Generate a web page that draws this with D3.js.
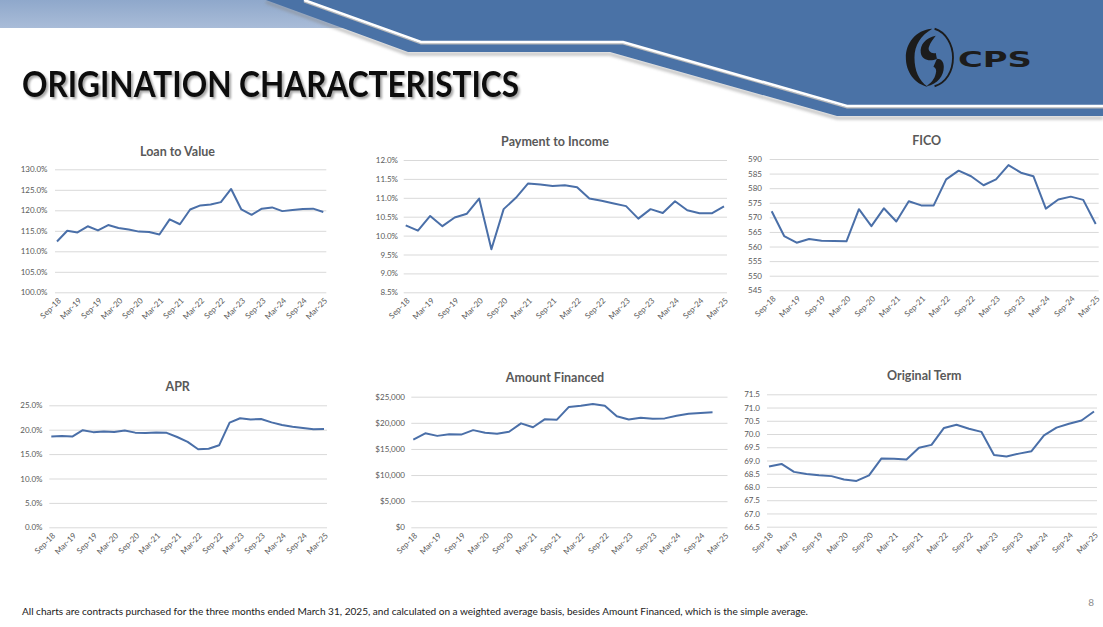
<!DOCTYPE html>
<html>
<head>
<meta charset="utf-8">
<script src="https://cdn.jsdelivr.net/npm/d3@7"></script>
<style>
  html, body { margin: 0; padding: 0; background: #ffffff; }
  svg { display: block; }
</style>
</head>
<body>
<script>
// ---------------- DATA ----------------
const quarters = ["Sep-18","Dec-18","Mar-19","Jun-19","Sep-19","Dec-19","Mar-20","Jun-20","Sep-20","Dec-20",
  "Mar-21","Jun-21","Sep-21","Dec-21","Mar-22","Jun-22","Sep-22","Dec-22","Mar-23","Jun-23",
  "Sep-23","Dec-23","Mar-24","Jun-24","Sep-24","Dec-24","Mar-25"];

const loanToValue = [112.4,115.0,114.6,116.1,115.1,116.4,115.7,115.3,114.8,114.7,114.1,117.8,116.6,120.2,121.2,121.4,122.0,125.2,120.2,118.9,120.4,120.7,119.8,120.1,120.3,120.4,119.6];
const paymentToIncome = [10.27,10.13,10.52,10.25,10.48,10.58,10.98,9.64,10.70,11.00,11.38,11.35,11.31,11.33,11.28,10.98,10.92,10.85,10.78,10.45,10.70,10.60,10.91,10.67,10.59,10.59,10.77];
const fico = [572.1,563.6,561.3,562.6,562.0,561.9,561.8,572.8,567.0,573.1,568.6,575.5,574.1,574.1,583.0,586.0,584.1,581.0,583.0,587.9,585.3,584.1,573.0,576.1,577.1,576.0,567.7];
const apr = [18.6,18.7,18.6,19.9,19.5,19.65,19.55,19.85,19.4,19.3,19.45,19.35,18.5,17.5,16.0,16.1,16.8,21.45,22.35,22.1,22.2,21.5,20.95,20.6,20.35,20.1,20.15];
const amountFinanced = [16800,18000,17500,17800,17750,18600,18100,17900,18300,19900,19150,20700,20600,23050,23250,23600,23250,21250,20650,20950,20800,20850,21350,21750,21900,22000,null];
const originalTerm = [68.77,68.87,68.57,68.49,68.44,68.41,68.28,68.23,68.44,69.08,69.07,69.04,69.48,69.59,70.23,70.35,70.20,70.08,69.21,69.15,69.26,69.35,69.95,70.24,70.39,70.51,70.85];

const ltvTicks = [100,105,110,115,120,125,130];
const ptiTicks = [8.5,9.0,9.5,10.0,10.5,11.0,11.5,12.0];
const ficoTicks = [545,550,555,560,565,570,575,580,585,590];
const aprTicks = [0,5,10,15,20,25];
const amountTicks = [0,5000,10000,15000,20000,25000];
const termTicks = [66.5,67.0,67.5,68.0,68.5,69.0,69.5,70.0,70.5,71.0,71.5];

const chartTitles = ["Loan to Value","Payment to Income","FICO","APR","Amount Financed","Original Term"];
const pageTitle = "ORIGINATION CHARACTERISTICS";
const footnote = "All charts are contracts purchased for the three months ended March 31, 2025, and calculated on a weighted average basis, besides Amount Financed, which is the simple average.";
const pageNumber = "8";

// ---------------- LAYOUT ----------------
const W = 1103, H = 627;
const svg = d3.select("body").append("svg").attr("width", W).attr("height", H);
svg.append("rect").attr("width", W).attr("height", H).attr("fill", "#ffffff");

const defs = svg.append("defs");
const lg = defs.append("linearGradient").attr("id","band").attr("x1",0).attr("y1",0).attr("x2",0).attr("y2",1);
lg.append("stop").attr("offset","0%").attr("stop-color","#8fa8cb");
lg.append("stop").attr("offset","100%").attr("stop-color","#a9bcd8");
const blur = defs.append("filter").attr("id","soft").attr("x","-10%").attr("y","-50%").attr("width","120%").attr("height","200%");
blur.append("feGaussianBlur").attr("stdDeviation",1.6);
const tshadow = defs.append("filter").attr("id","tshadow").attr("x","-5%").attr("y","-20%").attr("width","110%").attr("height","150%");
tshadow.append("feDropShadow").attr("dx",2).attr("dy",2).attr("stdDeviation",1.2).attr("flood-color","#000").attr("flood-opacity",0.35);

// header band
const blue = "#4a72a6";
svg.append("rect").attr("x",0).attr("y",0).attr("width",420).attr("height",28).attr("fill","url(#band)");
const bottomEdge = [[266,0],[408,52],[610,52],[837,116],[1103,116]];
const whiteEdge = [[304,0],[421,42],[623,42],[847,106],[1103,106]];
const lineGen = d3.line();
svg.append("path").attr("d", lineGen(bottomEdge.map(p=>[p[0],p[1]+2])))
  .attr("fill","none").attr("stroke","#8a8a8a").attr("stroke-width",3).attr("opacity",0.55).attr("filter","url(#soft)");
svg.append("path").attr("d", lineGen(bottomEdge.concat([[1103,0]])) + "Z").attr("fill", blue);
svg.append("path").attr("d", lineGen(whiteEdge.map(p=>[p[0],p[1]+1.8])))
  .attr("fill","none").attr("stroke","#b8b8b8").attr("stroke-width",1.4);
svg.append("path").attr("d", lineGen(whiteEdge))
  .attr("fill","none").attr("stroke","#ffffff").attr("stroke-width",2.6);

// logo
const logo = svg.append("g").attr("transform","translate(930,57.5) scale(1.15)").attr("fill","#1c1c1c");
logo.append("path").attr("d","M2,-25 C-13,-24 -21,-12 -21,0 C-21,13 -13,23 -2,25.5 C-10,20 -13.5,11 -13.5,0 C-13.5,-11 -8,-19 2,-25 Z");
logo.append("path").attr("d","M4,-25 C14,-22 20,-11 20,0 C20,12 14,22 4,25").attr("fill","none").attr("stroke","#1c1c1c").attr("stroke-width",1.6);
logo.append("path").attr("d","M5,-19 C-4,-17 -9,-11 -8,-4 C-7,2 0,4 6,1 L5,-4 C1,-3 -2,-6 -1,-9 C0,-13 3,-16 5,-19 Z");
logo.append("path").attr("d","M-3,25 C7,23 12,16 12,8 C12,4 10,1 6,1 L3,8 C5,9 6,11 5,14 C4,19 1,22 -3,25 Z");
svg.append("text").attr("x",958).attr("y",67).attr("font-family","DejaVu Sans").attr("font-weight","bold")
  .attr("font-size",21).attr("fill","#1c1c1c").attr("textLength",74).attr("lengthAdjust","spacingAndGlyphs").text("CPS");

// page title
svg.append("text").attr("x",22).attr("y",97).attr("font-family","Lato").attr("font-weight","bold")
  .attr("font-size",37).attr("fill","#111111").attr("textLength",497).attr("lengthAdjust","spacingAndGlyphs")
  .attr("filter","url(#tshadow)").text(pageTitle);

// footnote & page number
svg.append("text").attr("x",22).attr("y",615).attr("font-family","Lato")
  .attr("font-size",9).attr("fill","#1a1a1a").attr("textLength",786).attr("lengthAdjust","spacingAndGlyphs").text(footnote);
svg.append("text").attr("x",1094).attr("y",606).attr("font-family","Lato").attr("text-anchor","end")
  .attr("font-size",10).attr("fill","#8c8c8c").text(pageNumber);

// ---------------- CHARTS ----------------
const pct1 = v => v.toFixed(1) + "%";
const charts = [
  {title: chartTitles[0], data: loanToValue, ticks: ltvTicks, fmt: pct1, x0: 57, x1: 323.3, yTop: 169.3, yBot: 292.3, tx: 177.5, ty: 155.5, lr: 47.5},
  {title: chartTitles[1], data: paymentToIncome, ticks: ptiTicks, fmt: pct1, x0: 405.7, x1: 724, yTop: 160, yBot: 292.3, tx: 555, ty: 146, lr: 398},
  {title: chartTitles[2], data: fico, ticks: ficoTicks, fmt: d3.format("d"), x0: 771.7, x1: 1095.7, yTop: 159, yBot: 290.3, tx: 926.7, ty: 145, lr: 762},
  {title: chartTitles[3], data: apr, ticks: aprTicks, fmt: pct1, x0: 51.3, x1: 324, yTop: 405.3, yBot: 527.3, tx: 177.7, ty: 391, lr: 42.5},
  {title: chartTitles[4], data: amountFinanced, ticks: amountTicks, fmt: v => "$" + d3.format(",")(v), x0: 413.3, x1: 724.5, yTop: 396.7, yBot: 527.3, tx: 555, ty: 382, lr: 405},
  {title: chartTitles[5], data: originalTerm, ticks: termTicks, fmt: v => v.toFixed(1), x0: 769, x1: 1094, yTop: 394.3, yBot: 526.7, tx: 924.3, ty: 379.5, lr: 760}
];

const textGrey = "#595959";
const lineBlue = "#4a6fa8";
const font = "Lato";

charts.forEach(cfg => {
  const g = svg.append("g");
  const x = d3.scalePoint().domain(quarters).range([cfg.x0, cfg.x1]);
  const y = d3.scaleLinear().domain([cfg.ticks[0], cfg.ticks[cfg.ticks.length - 1]]).range([cfg.yBot, cfg.yTop]);

  const yAxis = d3.axisLeft(y).tickValues(cfg.ticks).tickFormat(cfg.fmt)
    .tickSizeInner(-(cfg.x1 - cfg.x0 + 5)).tickSizeOuter(0).tickPadding(cfg.x0 - 2 - cfg.lr);
  g.append("g").attr("transform", `translate(${cfg.x0 - 2},0)`).call(yAxis)
    .attr("font-family", font).attr("font-size", 8)
    .call(a => a.select(".domain").remove())
    .call(a => a.selectAll("line").attr("stroke", "#d9d9d9").attr("stroke-width", 1))
    .call(a => a.selectAll("text").attr("fill", textGrey));

  const xAxis = d3.axisBottom(x).tickValues(quarters.filter((d, i) => i % 2 === 0)).tickSize(0);
  g.append("g").attr("transform", `translate(0,${cfg.yBot})`).call(xAxis)
    .attr("font-family", font).attr("font-size", 8)
    .call(a => a.select(".domain").remove())
    .call(a => a.selectAll("text").attr("fill", textGrey).attr("y", 0).attr("dy", 0)
      .attr("text-anchor", "end").attr("transform", "translate(4,9) rotate(-45)"));

  const line = d3.line().defined(d => d != null).x((d, i) => x(quarters[i])).y(d => y(d));
  g.append("path").datum(cfg.data).attr("d", line).attr("fill", "none")
    .attr("stroke", lineBlue).attr("stroke-width", 2).attr("stroke-linejoin", "round");

  g.append("text").attr("x", cfg.tx).attr("y", cfg.ty).attr("text-anchor", "middle")
    .attr("font-family", font).attr("font-weight", "bold").attr("font-size", 12.5)
    .attr("fill", textGrey).text(cfg.title);
});
</script>
</body>
</html>
